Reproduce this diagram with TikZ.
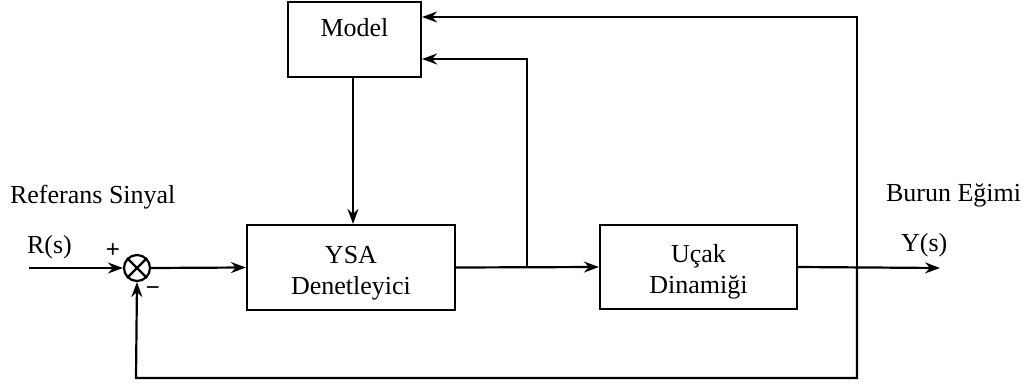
\documentclass[tikz,border=0pt]{standalone}
\usepackage{fontspec}
\setmainfont{Liberation Serif}
\newfontfamily\sgnfont{Liberation Sans}
\usetikzlibrary{arrows.meta,calc}
\begin{document}
\begin{tikzpicture}[x=1pt,y=1pt,
  line width=2.2pt,
  box/.style={draw, line width=2.2pt, inner sep=0pt},
  lbl/.style={font=\fontsize{26}{31}\selectfont, inner sep=0pt},
  arr/.style={-{Stealth[length=15pt,width=11pt,inset=5pt]}},
  sgn/.style={font=\fontsize{24}{28}\sgnfont, inner sep=0pt}]
\useasboundingbox (0,0) rectangle (1028,-385);
% blocks
\node[box, minimum width=133pt, minimum height=75pt] (model) at (354.5,-39.5) {};
\node[lbl, anchor=base] (modeltxt) at (354.5,-37) {Model};
\node[box, minimum width=208pt, minimum height=85pt] (ysa) at (351,-267.5) {};
\node[lbl, align=center, anchor=base] (ysatxt) at (351,-294) {YSA\\Denetleyici};
\node[box, minimum width=197pt, minimum height=84pt] (ucak) at (698.5,-267) {};
\node[lbl, align=center, anchor=base] (ucaktxt) at (698.5,-293) {Uçak\\Dinamiği};
% summing junction
\node[draw, circle, line width=2.2pt, minimum size=26pt, inner sep=0pt] (sum) at (137,-268) {};
\draw (sum.north west) -- (sum.south east) (sum.north east) -- (sum.south west);
% coordinates
\coordinate (in) at (29,-268);
\coordinate (out) at (940,-268);
\coordinate (j1) at (527,-268);
\coordinate (j1t) at (527,-59);
\coordinate (j2) at (857,-268);
\coordinate (j2t) at (857,-17);
\coordinate (fb1) at (857,-378);
\coordinate (fb2) at (136,-378);
% connectors
\draw[arr] (in) -- (sum.west);
\draw[arr] (sum.east) -- (ysa.west);
\draw[arr] (ysa.east) -- (ucak.west);
\draw[arr] (ucak.east) -- (out);
\draw[arr] (model.south -| 353,0) -- (ysa.north -| 353,0);
\draw[arr] (j1) -- (j1t) -- (model.east |- j1t);
\draw[arr] (j2) -- (j2t) -- (model.east |- j2t);
\draw[arr] (j2) -- (fb1) -- (fb2) -- (sum.south);
% labels
\node[lbl, anchor=base west] (ref) at (9,-203) {Referans Sinyal};
\node[lbl, anchor=base west] (burun) at (885,-201) {Burun Eğimi};
\node[lbl, anchor=base west] (rs) at (26,-253) {R(s)};
\node[lbl, anchor=base west] (ys) at (900,-251) {Y(s)};
\node[sgn] (plus) at (113,-251) {+};
\node[sgn] (minus) at (153,-291) {−};
\end{tikzpicture}
\end{document}
